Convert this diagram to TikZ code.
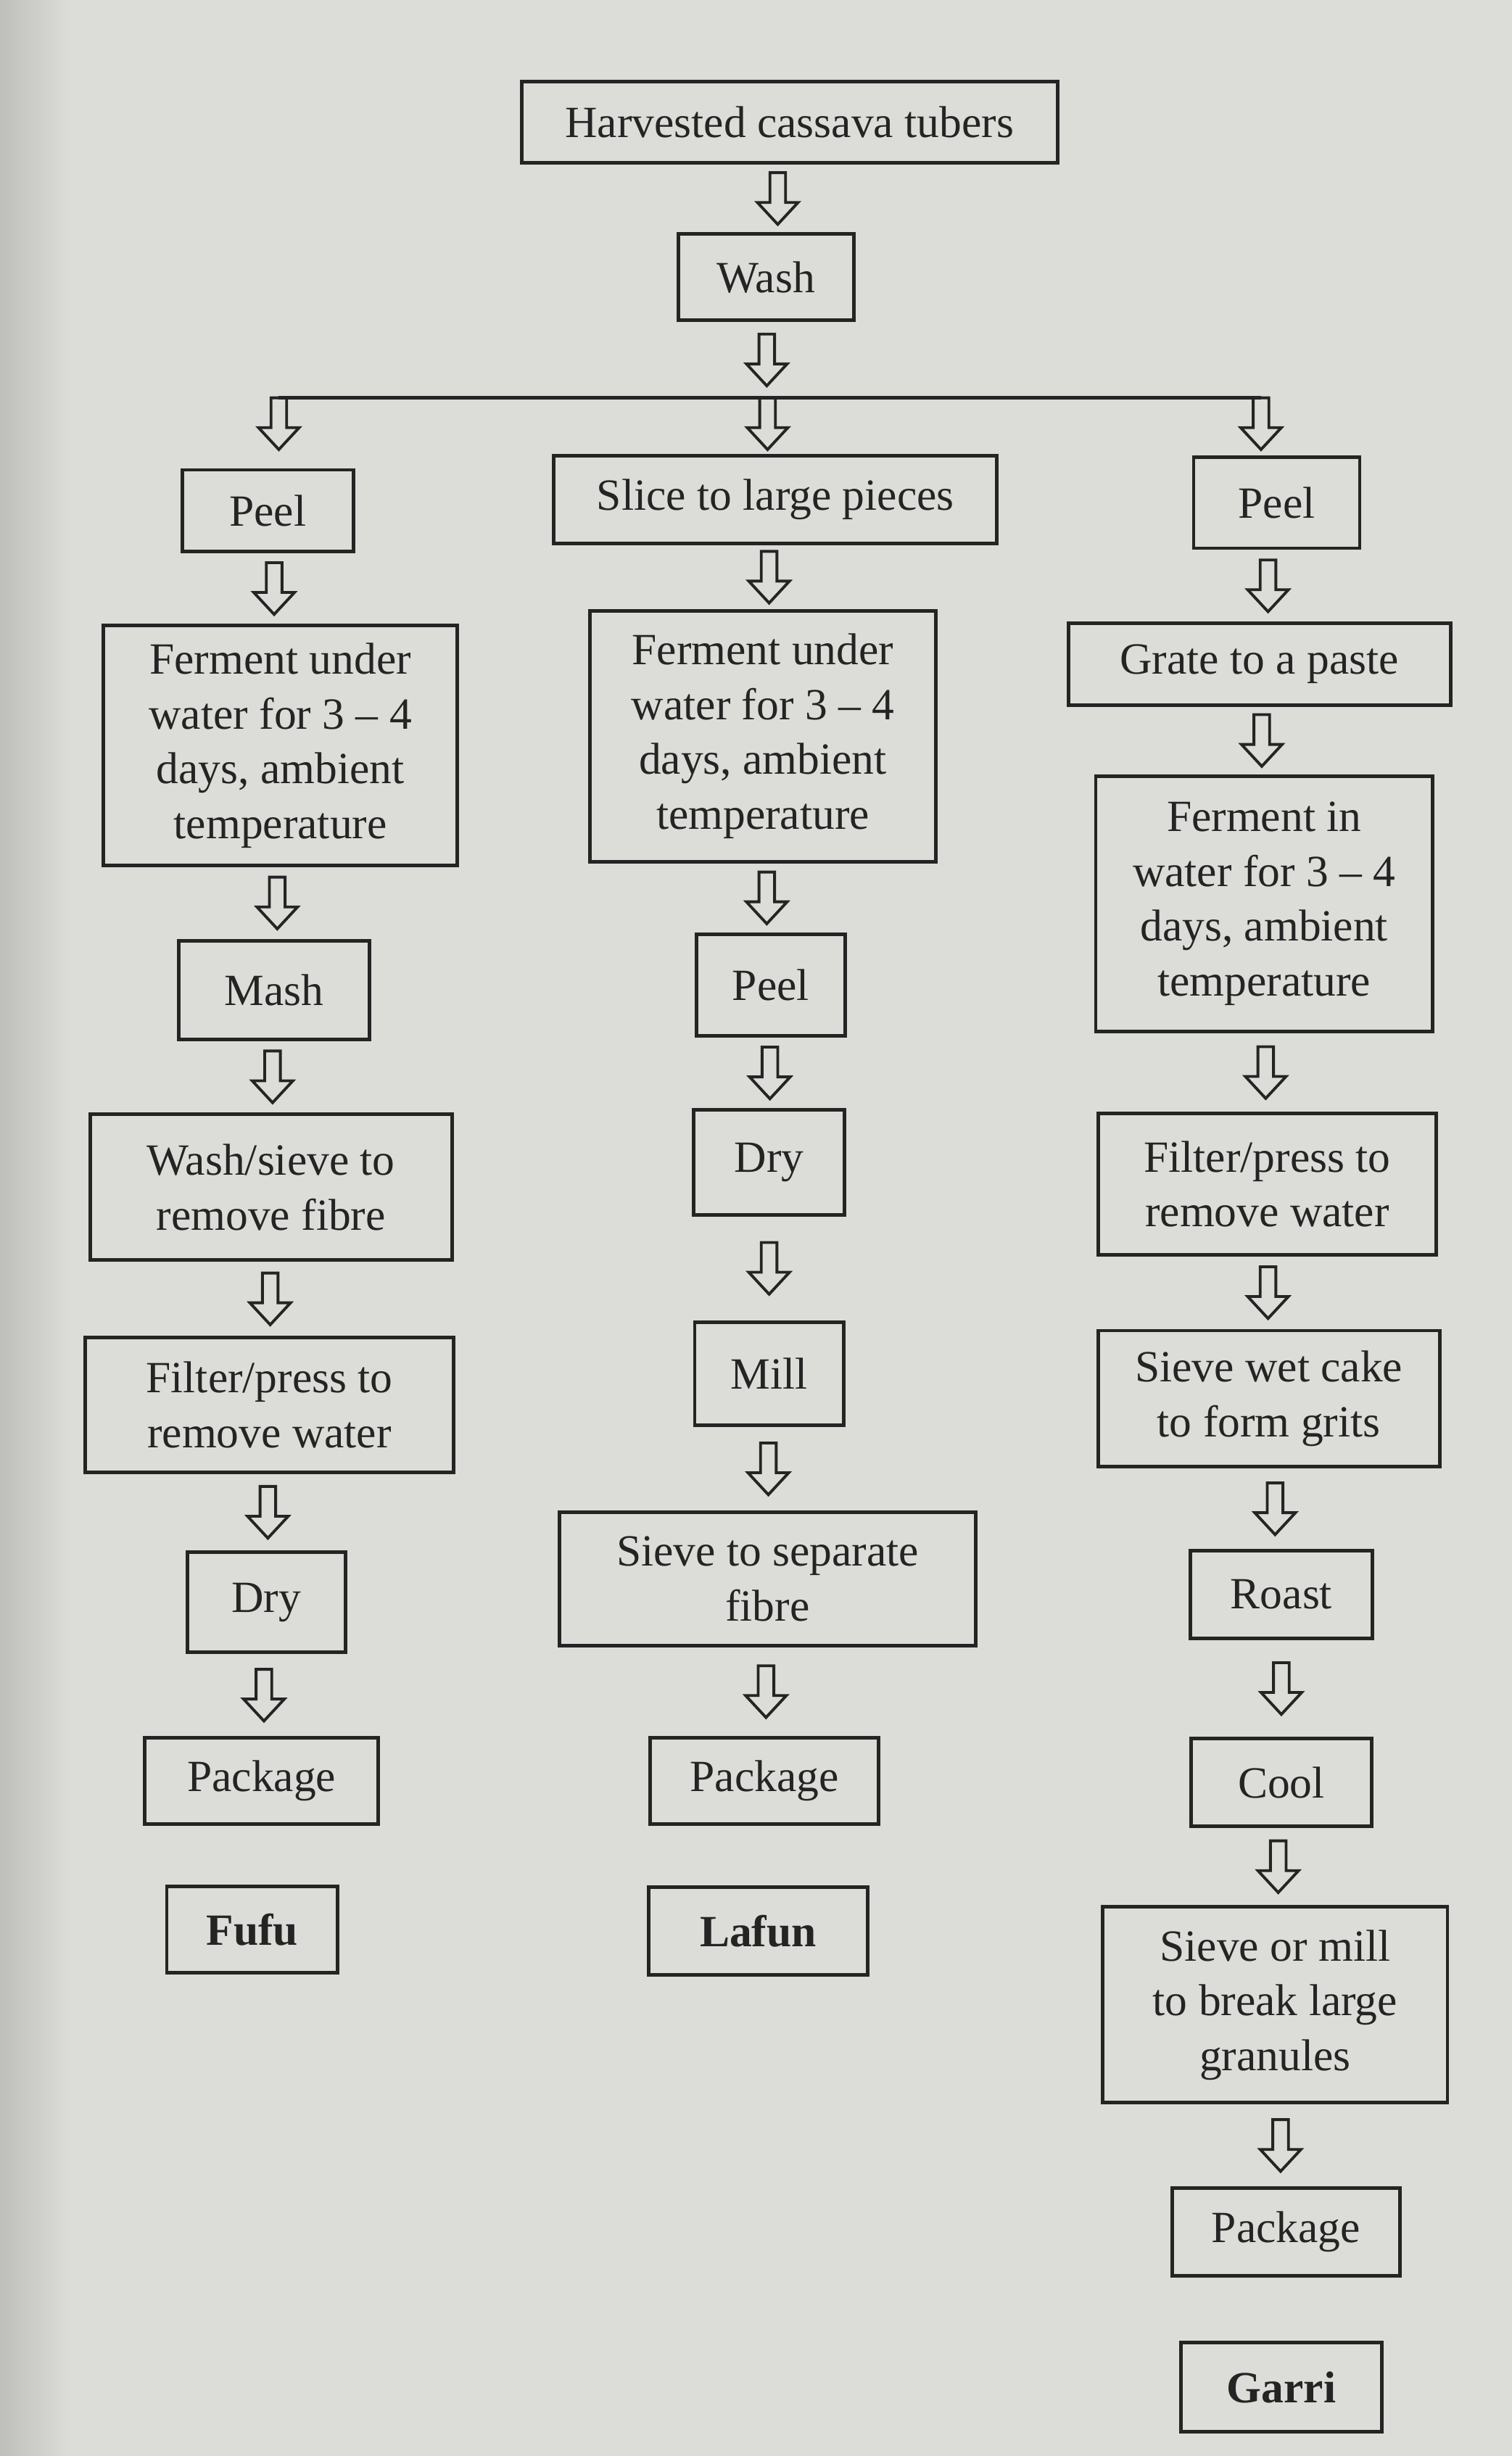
\documentclass[tikz,border=0pt]{standalone}
\usepackage{fontspec}
\setmainfont{Liberation Serif}
\usetikzlibrary{calc}
\newlength\px \setlength\px{0.6144pt}
\definecolor{paper}{RGB}{220,220,216}
\definecolor{paperdark}{RGB}{190,190,186}
\definecolor{ink}{RGB}{36,36,36}
\tikzset{
  box/.style={draw=ink, line width=1.4pt, text=ink, align=center, inner sep=0pt,
    font=\fontsize{17.5}{21.5}\selectfont},
  endbox/.style={box, font=\fontsize{17.5}{21.5}\selectfont\bfseries},
  arr/.style={draw=ink, line width=1.1pt, line join=miter},
  barline/.style={draw=ink, line width=1.3pt}
}
\newcommand\arrowtop[1]{%
  \draw[arr] ([shift={(-5\px,0pt)}]#1) -- ([shift={(-5\px,-19\px)}]#1) -- ([shift={(-13\px,-19\px)}]#1)
   -- ([shift={(0pt,-33\px)}]#1) -- ([shift={(13\px,-19\px)}]#1) -- ([shift={(5\px,-19\px)}]#1)
   -- ([shift={(5\px,0pt)}]#1) -- cycle;}
\newcommand\flow[2]{%
  \coordinate (m) at ($(#1.south)!0.5!(#2.north)+(0pt,16.5\px)$);
  \arrowtop{m}}
\begin{document}
\begin{tikzpicture}[x=0.021596cm, y=-0.021596cm]
\fill[paper] (0,0) rectangle (965,1568);
\shade[left color=paperdark, right color=paper] (0,0) rectangle (45,1568);
\useasboundingbox (0,0) rectangle (965,1568);

% top
\node[box, minimum width=342\px, minimum height=52\px] (top) at (504,78) {Harvested cassava tubers};
\node[box, minimum width=112\px, minimum height=55\px] (wash) at (489,177) {Wash};
\flow{top}{wash}

% branching bar
\coordinate (bl) at (178,254);
\coordinate (bm) at (490,254);
\coordinate (br) at (805,254);
\draw[barline] (bl) -- (br);
\coordinate (m) at ($(wash.south)!0.5!(bm)+(0pt,16.5\px)$);
\arrowtop{m}
\arrowtop{bl}
\arrowtop{bm}
\arrowtop{br}

% left column (Fufu)
\node[box, minimum width=109\px, minimum height=52\px] (peelL) at (171,326) {Peel};
\node[box, minimum width=226\px, minimum height=153\px] (fermL) at (179,476) {Ferment under\\water for 3 – 4\\days, ambient\\temperature};
\node[box, minimum width=122\px, minimum height=63\px] (mashL) at (175,632) {Mash};
\node[box, minimum width=231\px, minimum height=93\px] (washL) at (173,758) {Wash/sieve to\\remove fibre};
\node[box, minimum width=235\px, minimum height=86\px] (filtL) at (172,897) {Filter/press to\\remove water};
\node[box, minimum width=101\px, minimum height=64\px] (dryL) at (170,1023) {Dry};
\node[box, minimum width=149\px, minimum height=55\px] (packL) at (167,1137) {Package};
\node[endbox, minimum width=109\px, minimum height=55\px] (fufu) at (161,1232) {Fufu};
\flow{peelL}{fermL}
\flow{fermL}{mashL}
\flow{mashL}{washL}
\flow{washL}{filtL}
\flow{filtL}{dryL}
\flow{dryL}{packL}

% middle column (Lafun)
\node[box, minimum width=283\px, minimum height=56\px] (slice) at (495,319) {Slice to large pieces};
\node[box, minimum width=221\px, minimum height=160\px] (fermM) at (487,470) {Ferment under\\water for 3 – 4\\days, ambient\\temperature};
\node[box, minimum width=95\px, minimum height=65\px] (peelM) at (492,629) {Peel};
\node[box, minimum width=96\px, minimum height=67\px] (dryM) at (491,742) {Dry};
\node[box, minimum width=95\px, minimum height=66\px] (mill) at (491,877) {Mill};
\node[box, minimum width=266\px, minimum height=85\px] (sieveM) at (490,1008) {Sieve to separate\\fibre};
\node[box, minimum width=146\px, minimum height=55\px] (packM) at (488,1137) {Package};
\node[endbox, minimum width=140\px, minimum height=56\px] (lafun) at (484,1233) {Lafun};
\flow{slice}{fermM}
\flow{fermM}{peelM}
\flow{peelM}{dryM}
\flow{dryM}{mill}
\flow{mill}{sieveM}
\flow{sieveM}{packM}

% right column (Garri)
\node[box, minimum width=106\px, minimum height=58\px] (peelR) at (815,321) {Peel};
\node[box, minimum width=244\px, minimum height=52\px] (grate) at (804,424) {Grate to a paste};
\node[box, minimum width=215\px, minimum height=163\px] (fermR) at (807,577) {Ferment in\\water for 3 – 4\\days, ambient\\temperature};
\node[box, minimum width=216\px, minimum height=90\px] (filtR) at (809,756) {Filter/press to\\remove water};
\node[box, minimum width=218\px, minimum height=87\px] (sieveR) at (810,893) {Sieve wet cake\\to form grits};
\node[box, minimum width=116\px, minimum height=56\px] (roast) at (818,1018) {Roast};
\node[box, minimum width=115\px, minimum height=56\px] (cool) at (818,1138) {Cool};
\node[box, minimum width=220\px, minimum height=125\px] (sieveR2) at (814,1280) {Sieve or mill\\to break large\\granules};
\node[box, minimum width=145\px, minimum height=56\px] (packR) at (821,1425) {Package};
\node[endbox, minimum width=128\px, minimum height=57\px] (garri) at (818,1524) {Garri};
\flow{peelR}{grate}
\flow{grate}{fermR}
\flow{fermR}{filtR}
\flow{filtR}{sieveR}
\flow{sieveR}{roast}
\flow{roast}{cool}
\flow{cool}{sieveR2}
\flow{sieveR2}{packR}
\end{tikzpicture}
\end{document}
